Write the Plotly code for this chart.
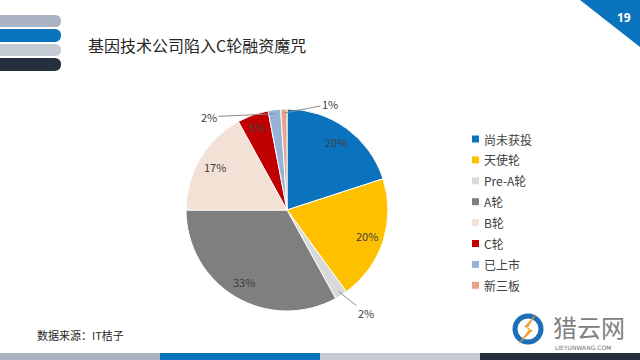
import math
import plotly.graph_objects as go

# ---- data ----
categories = ["尚未获投", "天使轮", "Pre-A轮", "A轮", "B轮", "C轮", "已上市", "新三板"]
values = [20, 20, 2, 33, 17, 5, 2, 1]
colors = ["#0B72BD", "#FFC000", "#D9D9D9", "#7F7F7F", "#F4E1D6", "#C00000", "#95B3D7", "#E8A48A"]
inside_show = [True, True, False, True, True, True, False, False]
title_text = "基因技术公司陷入C轮融资魔咒"
source_text = "数据来源：IT桔子"
page_no = "19"

W, H = 640, 360
FONT = "Noto Sans CJK SC"

def px(x):
    return x / W

def py(y):
    return 1 - y / H

# pie geometry (pixels)
CX, CY, R = 287, 210, 101

fig = go.Figure()
fig.add_trace(go.Pie(
    labels=categories, values=values, textinfo="none",
    sort=False, direction="clockwise", rotation=0,
    marker=dict(colors=colors, line=dict(color="white", width=1)),
    domain=dict(x=[px(CX - R), px(CX + R)], y=[py(CY + R), py(CY - R)]),
    showlegend=False, hoverinfo="label+percent",
))

shapes = []
annotations = []

def text(x, y, t, size, color, xanchor="left", family=FONT):
    annotations.append(dict(x=px(x), y=py(y), xref="paper", yref="paper", text=t,
                            xanchor=xanchor, yanchor="middle", showarrow=False,
                            font=dict(family=family, size=size, color=color)))

# top-left decorative bars
bars = [(15, 27, "#A9B3C1"), (29, 42, "#0A73BE"), (44, 56, "#C5CBD3"), (58, 71, "#262F3D")]
for y0, y1, c in bars:
    r = (y1 - y0) / 2
    xe = 61 - r
    path = (f"M {px(0)} {py(y0)} L {px(xe)} {py(y0)} "
            f"Q {px(61)} {py(y0)} {px(61)} {py((y0 + y1) / 2)} "
            f"Q {px(61)} {py(y1)} {px(xe)} {py(y1)} L {px(0)} {py(y1)} Z")
    shapes.append(dict(type="path", xref="paper", yref="paper", path=path,
                       fillcolor=c, line=dict(width=0)))

# top-right triangle
shapes.append(dict(type="path", xref="paper", yref="paper",
                   path=f"M {px(580)} {py(0)} L {px(640)} {py(0)} L {px(640)} {py(47)} Z",
                   fillcolor="#0A73BE", line=dict(width=0)))
text(624, 17, f"<b>{page_no}</b>", 12, "white", xanchor="center", family="Open Sans")

# bottom bars
for i, c in enumerate(["#A9B3C1", "#0A73BE", "#C5CBD3", "#262F3D"]):
    shapes.append(dict(type="rect", xref="paper", yref="paper",
                       x0=px(160 * i), x1=px(160 * (i + 1)), y0=py(360), y1=py(353),
                       fillcolor=c, line=dict(width=0)))

# title and source
text(86, 45, title_text, 16, "#262626")
text(35, 335, source_text, 11, "#262626")

# custom legend
for i, (cat, c) in enumerate(zip(categories, colors)):
    yc = 139 + i * 20.9
    shapes.append(dict(type="rect", xref="paper", yref="paper",
                       x0=px(472), x1=px(479), y0=py(yc + 3.5), y1=py(yc - 3.5),
                       fillcolor=c, line=dict(width=0)))
    text(482, yc, cat, 12, "#404040")

# percentage labels
offsets = {2: (27, 21), 6: (-66, 3), 7: (46, -9)}
total = sum(values)
cum = 0
for i, v in enumerate(values):
    mid = cum + v / 2
    cum += v
    ang = 2 * math.pi * mid / total
    if inside_show[i]:
        rr = R * (0.87 if v < 10 else 0.83)
        lx = CX + rr * math.sin(ang)
        ly = CY - rr * math.cos(ang)
        text(lx, ly, f"{v}%", 11, "#404040", xanchor="center")
    elif i in offsets:
        ex = CX + (R - 4) * math.sin(ang)
        ey = CY - (R - 4) * math.cos(ang)
        ax, ay = offsets[i]
        annotations.append(dict(x=px(ex), y=py(ey), xref="paper", yref="paper",
                                xanchor="center", yanchor="middle",
                                text=f"{v}%", showarrow=True, arrowhead=0, arrowwidth=1,
                                arrowcolor="#8C8C8C", ax=ax, ay=ay, standoff=0,
                                font=dict(family=FONT, size=11, color="#404040")))

# logo
shapes.append(dict(type="circle", xref="paper", yref="paper",
                   x0=px(515), x1=px(541), y0=py(342), y1=py(316),
                   line=dict(color="#1E6FB8", width=5), fillcolor="rgba(0,0,0,0)"))
bolt = [(537, 313), (524, 327), (530, 328), (518, 345), (533, 330), (527, 329)]
bolt_path = "M " + " L ".join(f"{px(x)} {py(y)}" for x, y in bolt) + " Z"
shapes.append(dict(type="path", xref="paper", yref="paper", path=bolt_path,
                   fillcolor="#F0A030", line=dict(width=0)))
text(551, 326, "猎云网", 24, "#808080")
text(553, 347, "LIEYUNWANG.COM", 6, "#707070", family="DejaVu Sans")

fig.update_layout(
    width=W, height=H, margin=dict(l=0, r=0, t=0, b=0),
    paper_bgcolor="white", plot_bgcolor="white",
    shapes=shapes, annotations=annotations, showlegend=False,
)

fig.write_html("out.html", config={"displayModeBar": False},
               post_script="document.body.style.margin='0';")
